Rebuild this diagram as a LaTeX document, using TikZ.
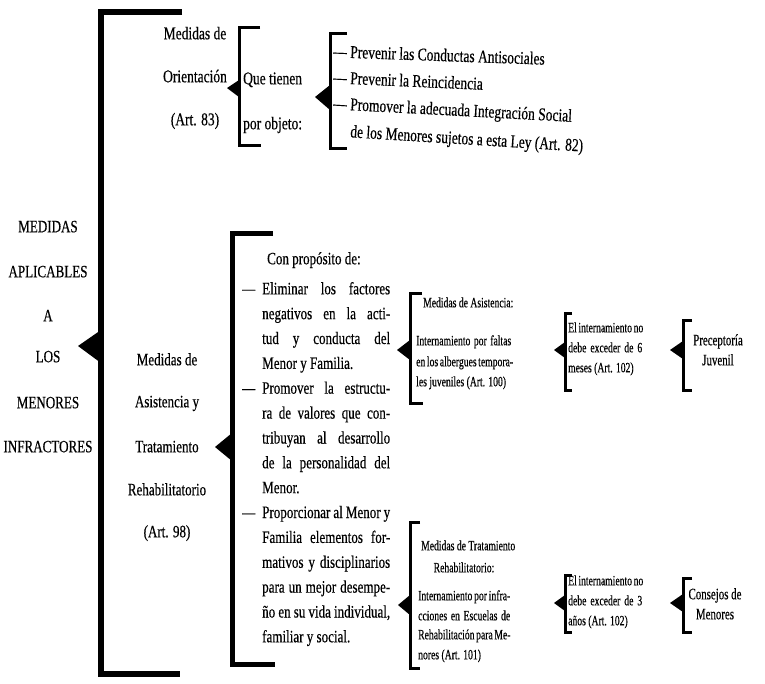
\documentclass[tikz,border=0pt]{standalone}
\usepackage{fontspec}
\setmainfont{Liberation Serif}[FakeStretch=0.75,FakeBold=0.4]
\newfontfamily\rfont{Liberation Serif}[FakeStretch=0.68,FakeBold=0.4]
\newcommand{\jl}[2]{\makebox[#1][s]{#2}}
\newcommand{\dsh}[1]{\makebox[#1][l]{—}}
\begin{document}
\begin{tikzpicture}[x=1pt,y=-1pt,
  txt/.style={inner sep=0pt, font=\fontsize{17.4}{20}\selectfont},
  tl/.style={txt, anchor=mid west},
  tc/.style={txt, anchor=mid},
  tp/.style={inner sep=0pt, font=\fontsize{18}{21}\selectfont},
  sm/.style={inner sep=0pt, font=\rfont\fontsize{14.2}{16}\selectfont, anchor=mid west},
  smc/.style={inner sep=0pt, font=\rfont\fontsize{16}{18}\selectfont, anchor=mid},
  bigbk/.style={line width=6pt, line join=miter, line cap=butt},
  midbk/.style={line width=5pt, line join=miter, line cap=butt},
  smbk/.style={line width=3pt, line join=miter, line cap=butt},
  tri/.style={fill=black},
]
\useasboundingbox (0,0) rectangle (765,683);

% ---------- big bracket ----------
\draw[bigbk] (182,12) -- (101,12) -- (101,674) -- (180,674);
\fill[tri] (101,330) -- (78,346) -- (101,363) -- cycle;
\node[tc] (l1) at (48,230) {MEDIDAS};
\node[tc] (l2) at (48,275) {APLICABLES};
\node[tc] (l3) at (48,319) {A};
\node[tc] (l4) at (48,360) {LOS};
\node[tc] (l5) at (48,406) {MENORES};
\node[tc] (l6) at (48,450) {INFRACTORES};

% ---------- top section ----------
\node[tp, anchor=mid] (o1) at (195,37) {Medidas de};
\node[tp, anchor=mid] (o2) at (195,80) {Orientación};
\node[tp, anchor=mid] (o3) at (195,123) {(Art. 83)};
\draw[smbk] (260,27) -- (239,27) -- (239,145) -- (261,145);
\fill[tri] (239,80) -- (227,88) -- (239,97) -- cycle;
\node[tp, anchor=mid west] (q1) at (243,82) {Que tienen};
\node[tp, anchor=mid west] (q2) at (243,127) {por objeto:};
\draw[smbk] (347,33) -- (330,33) -- (330,148) -- (347,148);
\fill[tri] (330,85) -- (315,97) -- (330,110) -- cycle;
\node[tp, anchor=mid west, rotate=-2] (p1) at (333,55) {\dsh{17pt}Prevenir las Conductas Antisociales};
\node[tp, anchor=mid west, rotate=-2.5] (p2) at (333,81) {\dsh{17pt}Prevenir la Reincidencia};
\node[tp, anchor=mid west, rotate=-3] (p3) at (333,107) {\dsh{17pt}Promover la adecuada Integración Social};
\node[tp, anchor=mid west, rotate=-3.5] (p4) at (350,135) {de los Menores sujetos a esta Ley (Art. 82)};

% ---------- middle section ----------
\node[tc] (m1) at (167,363) {Medidas de};
\node[tc] (m2) at (167,405) {Asistencia y};
\node[tc] (m3) at (167,450) {Tratamiento};
\node[tc] (m4) at (167,493) {Rehabilitatorio};
\node[tc] (m5) at (167,535) {(Art. 98)};
\draw[midbk] (273,233) -- (232,233) -- (232,664) -- (275,664);
\fill[tri] (232,433) -- (215,447) -- (232,461) -- cycle;
\node[tl] (c) at (267,262) {Con propósito de:};
\node[tl] (c0) at (242,292.0) {\dsh{20pt}\jl{128pt}{Eliminar los factores}};
\node[tl] (c1) at (262,316.9) {\jl{128pt}{negativos en la acti-}};
\node[tl] (c2) at (262,341.7) {\jl{128pt}{tud y conducta del}};
\node[tl] (c3) at (262,366.6) {Menor y Familia.};
\node[tl] (c4) at (242,391.4) {\dsh{20pt}\jl{128pt}{Promover la estructu-}};
\node[tl] (c5) at (262,416.3) {\jl{128pt}{ra de valores que con-}};
\node[tl] (c6) at (262,441.2) {\jl{128pt}{tribuyan al desarrollo}};
\node[tl] (c7) at (262,466.0) {\jl{128pt}{de la personalidad del}};
\node[tl] (c8) at (262,490.9) {Menor.};
\node[tl] (c9) at (242,515.7) {\dsh{20pt}\jl{128pt}{Proporcionar al Menor y}};
\node[tl] (c10) at (262,540.6) {\jl{128pt}{Familia elementos for-}};
\node[tl] (c11) at (262,565.5) {\jl{128pt}{mativos y disciplinarios}};
\node[tl] (c12) at (262,590.3) {\jl{128pt}{para un mejor desempe-}};
\node[tl] (c13) at (262,615.2) {\jl{128pt}{ño en su vida individual,}};
\node[tl] (c14) at (262,640.0) {familiar y social.};

% ---------- right upper ----------
\draw[smbk] (422,293) -- (410,293) -- (410,403) -- (423,403);
\fill[tri] (410,340) -- (397,350) -- (410,360) -- cycle;
\node[sm] (a0) at (423,305) {Medidas de Asistencia:};
\node[sm] (a1) at (416,343) {\jl{95pt}{Internamiento por faltas}};
\node[sm] (a2) at (416,364) {\jl{95pt}{en los albergues tempora-}};
\node[sm] (a3) at (416,384) {les juveniles (Art. 100)};
\draw[smbk] (572,313) -- (565,313) -- (565,390) -- (572,390);
\fill[tri] (565,342) -- (554,350) -- (565,358) -- cycle;
\node[sm] (e1) at (568,330) {\jl{74pt}{El internamiento no}};
\node[sm] (e2) at (568,350) {\jl{74pt}{debe exceder de 6}};
\node[sm] (e3) at (568,370) {meses (Art. 102)};
\draw[smbk] (692,320) -- (683,320) -- (683,390) -- (692,390);
\fill[tri] (683,341) -- (670,350) -- (683,359) -- cycle;
\node[smc] (j1) at (718,343) {Preceptoría};
\node[smc] (j2) at (718,363) {Juvenil};

% ---------- right lower ----------
\draw[smbk] (420,522) -- (410,522) -- (410,668) -- (420,668);
\fill[tri] (410,595) -- (398,605) -- (410,615) -- cycle;
\node[sm] (t0) at (421,548) {Medidas de Tratamiento};
\node[sm, anchor=mid] (t1) at (464,570) {Rehabilitatorio:};
\node[sm] (t2) at (418,598) {\jl{92pt}{Internamiento por infra-}};
\node[sm] (t3) at (418,618) {\jl{92pt}{cciones en Escuelas de}};
\node[sm] (t4) at (418,637) {\jl{92pt}{Rehabilitación para Me-}};
\node[sm] (t5) at (418,657) {nores (Art. 101)};
\draw[smbk] (572,575) -- (565,575) -- (565,632) -- (572,632);
\fill[tri] (565,595) -- (554,603) -- (565,611) -- cycle;
\node[sm] (f1) at (568,583) {\jl{74pt}{El internamiento no}};
\node[sm] (f2) at (568,603) {\jl{74pt}{debe exceder de 3}};
\node[sm] (f3) at (568,623) {años (Art. 102)};
\draw[smbk] (692,578) -- (683,578) -- (683,632) -- (692,632);
\fill[tri] (683,594) -- (670,603) -- (683,612) -- cycle;
\node[smc] (k1) at (715,597) {Consejos de};
\node[smc] (k2) at (715,617) {Menores};
\end{tikzpicture}
\end{document}
